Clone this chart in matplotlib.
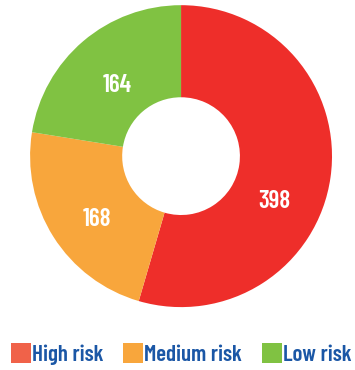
import matplotlib
matplotlib.use("Agg")
import numpy as np
import matplotlib.pyplot as plt
from matplotlib.lines import Line2D
from matplotlib.font_manager import FontProperties

categories = ["High risk", "Medium risk", "Low risk"]
counts = [398, 168, 164]
colors = ["#EE2E2A", "#F8A63C", "#80C242"]
legend_colors = ["#F06249", "#F8A63C", "#80C242"]

# where the number sits in each ring segment: (angle in degrees, radius)
label_spots = [(-26, 0.69), (-143, 0.70), (132, 0.63)]

FAMILY = ["Barlow Condensed", "DejaVu Sans"]

fig = plt.figure(figsize=(3.55, 3.70), dpi=100)
ax = fig.add_axes([0.0845, 0.170, 0.851, 0.816])

total = sum(counts)
wedges, _, autotexts = ax.pie(
    counts,
    colors=colors,
    startangle=90,
    counterclock=False,
    radius=1.0,
    wedgeprops=dict(width=0.61, linewidth=0),
    autopct=lambda p: f"{round(p * total / 100)}",
    pctdistance=0.695,
)
for t, (ang, r) in zip(autotexts, label_spots):
    t.set_color("white")
    t.set_fontproperties(FontProperties(family=FAMILY, weight=600, size=18))
    t.set_position((r * np.cos(np.radians(ang)), r * np.sin(np.radians(ang))))

ax.set_xlim(-1, 1)
ax.set_ylim(-1, 1)
ax.set_aspect("equal")

handles = [Line2D([], [], linestyle="none", marker="s", markersize=14,
                  markerfacecolor=c, markeredgewidth=0) for c in legend_colors]
leg = fig.legend(
    handles, categories,
    loc="center", bbox_to_anchor=(0.51, 0.04), ncol=3, frameon=False,
    handlelength=0.9, handletextpad=0.02, columnspacing=0.85,
    borderpad=0, borderaxespad=0,
    prop=FontProperties(family=FAMILY, weight=600, size=16.5),
)
for t in leg.get_texts():
    t.set_color("#1B57A6")

fig.savefig("out.png", dpi=100)
